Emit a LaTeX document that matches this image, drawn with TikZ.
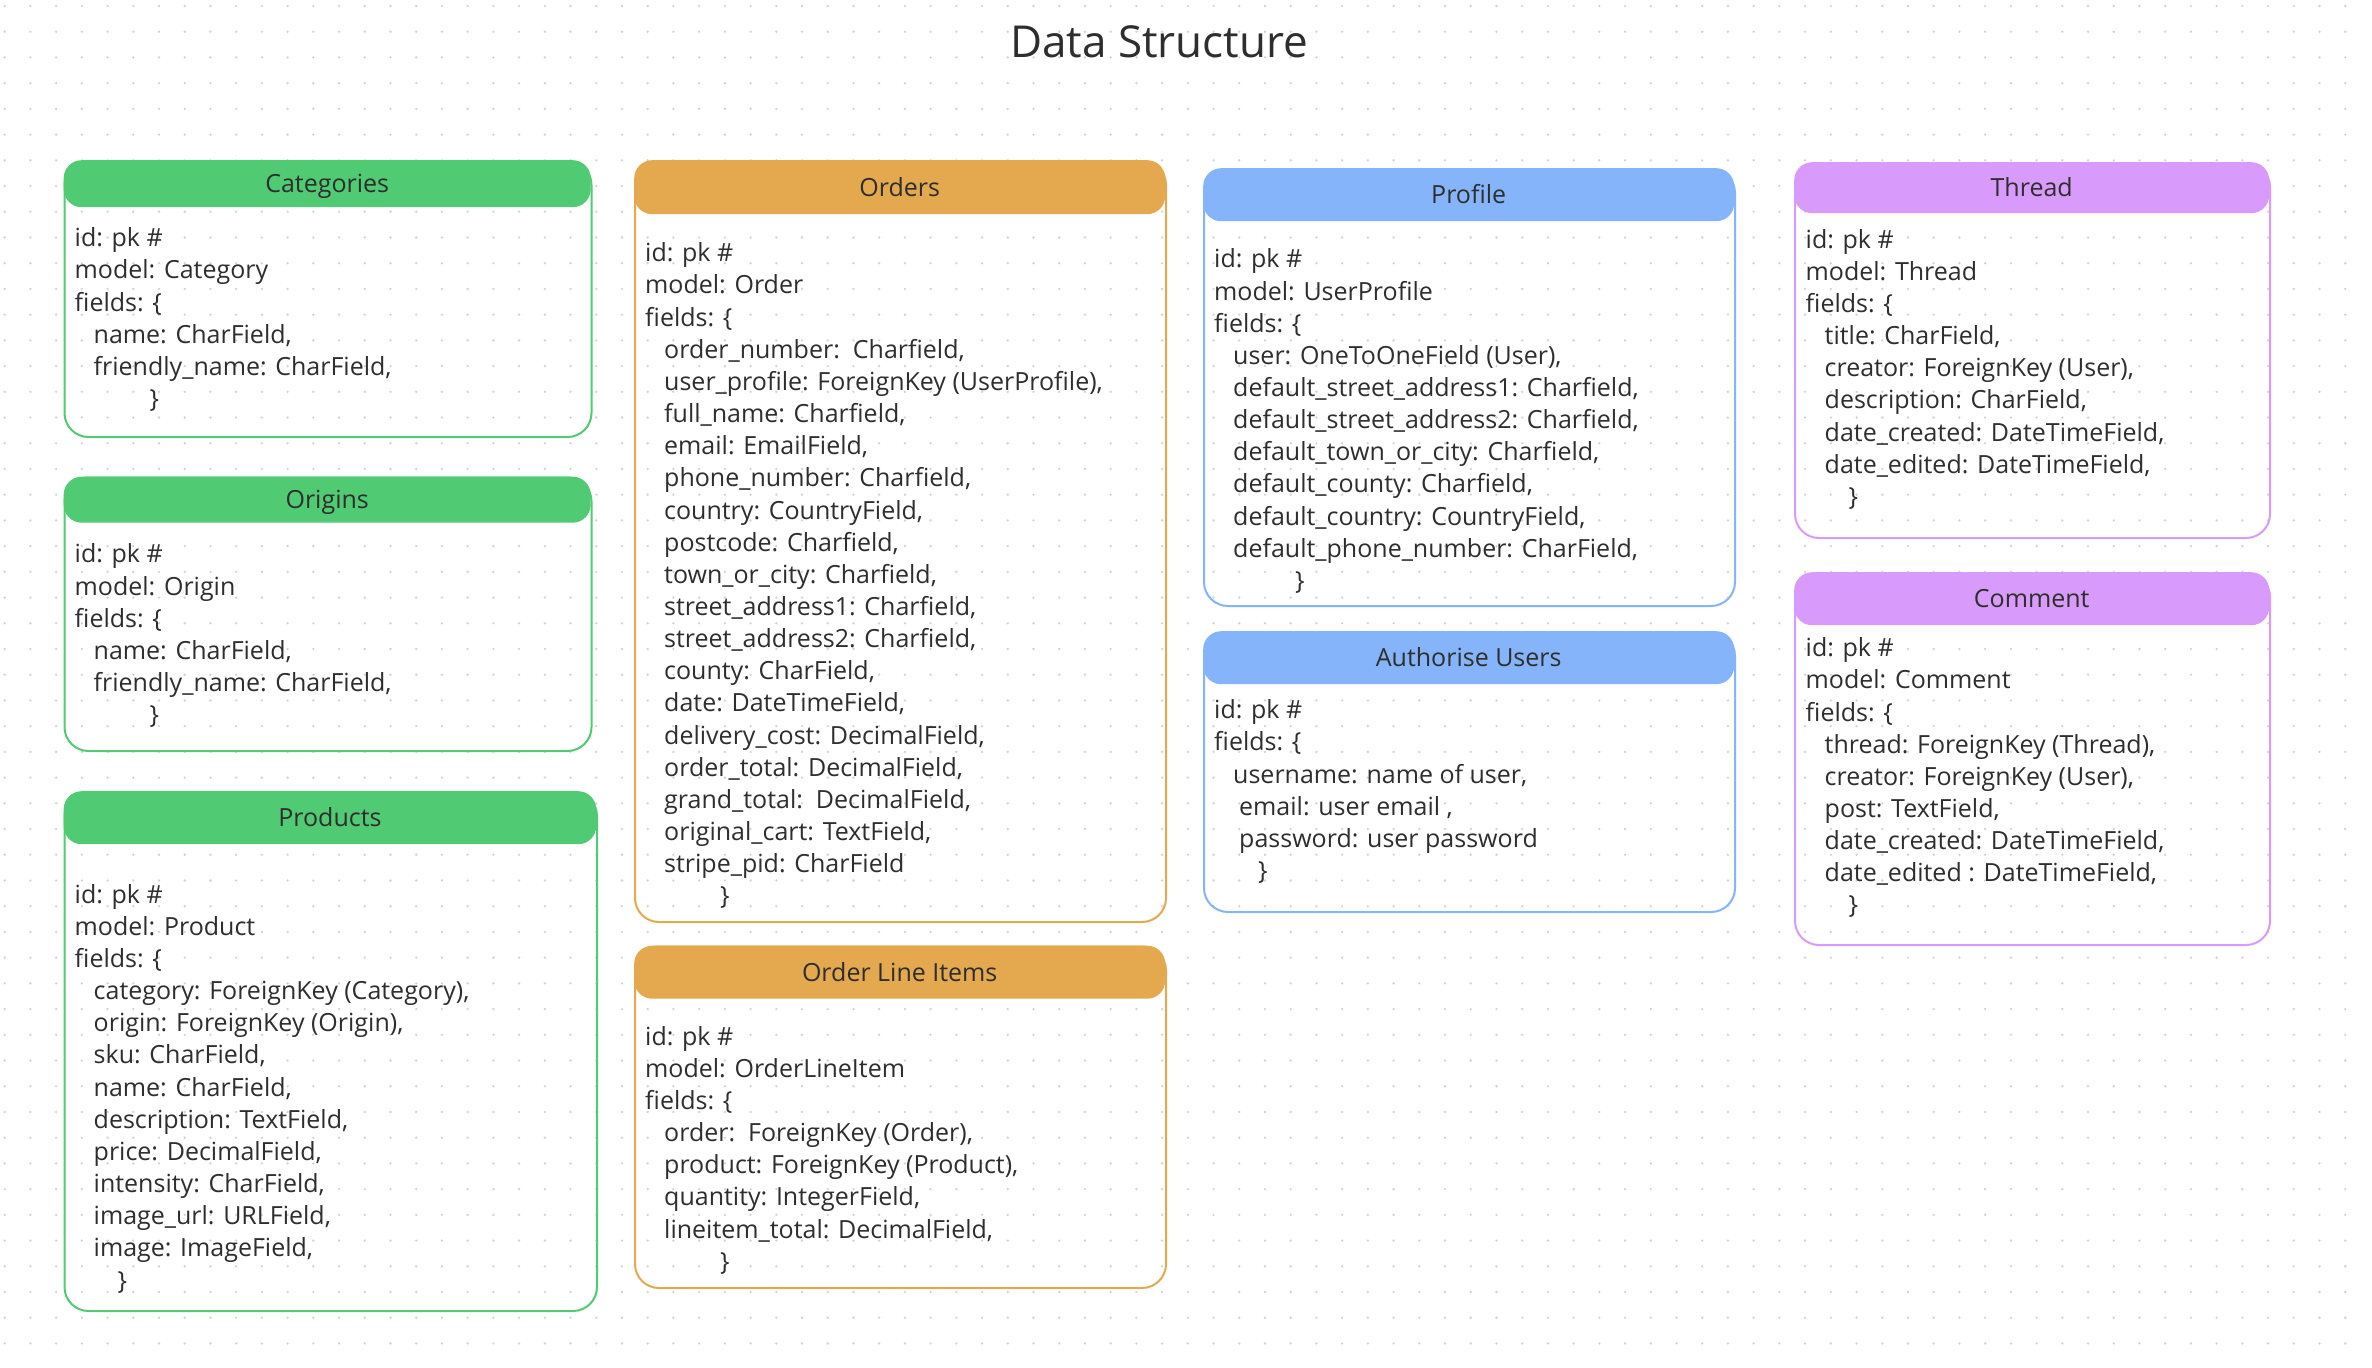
\documentclass[tikz,border=0pt]{standalone}
\usepackage{fontspec}
\setmainfont{Open Sans}
\usetikzlibrary{positioning}
\definecolor{dsgreen}{HTML}{50CB73}
\definecolor{dsorange}{HTML}{E4A84F}
\definecolor{dsblue}{HTML}{85B4FB}
\definecolor{dspurple}{HTML}{D89BFB}
\definecolor{dsink}{HTML}{2E2E2E}
\definecolor{dsdot}{HTML}{D2D2D2}
\newcommand{\fld}{\hspace*{19pt}}
\newcommand{\cls}[1]{\hspace*{#1pt}\}}

\begin{document}
\begin{tikzpicture}[x=1pt, y=-1pt, font=\fontsize{25}{32.15}\selectfont, text=dsink,
          card/.style={draw=#1, line width=2pt, rounded corners=24pt, anchor=north west, inner sep=0pt},
          head/.style={fill=#1, rounded corners=18pt, anchor=north west, inner sep=0pt, text height=18pt, text depth=0pt},
          body/.style={anchor=north west, inner sep=0pt, align=left}]
          \useasboundingbox (0,0) rectangle (2372,1368);
          \fill[white] (0,0) rectangle (2372,1368);
          % dotted canvas
          \foreach \j in {0,...,52} {\fill[dsdot] \foreach \i in {0,...,91} {(4.7+25.72*\i, 6+25.72*\j) circle (1.3)};}
          \node[font=\fontsize{44}{50}\selectfont] (title) at (1159,42) {Data Structure};
          % first column
          \node[card=dsgreen, minimum width=527, minimum height=276] (cat) at (63.5,160) {};
          \node[head=dsgreen, minimum width=527, minimum height=47] (cat-h) at (cat.north west) {Categories};
          \node[body] (cat-b) at (74.5,224) {\strut id: pk \#\\ model: Category\\ fields: \{\\
            \fld name: CharField,\\ \fld friendly\_name: CharField,\\ \cls{75}};
          \node[card=dsgreen, minimum width=527, minimum height=273.5] (ori) at (63.5,476.5) {};
          \node[head=dsgreen, minimum width=527, minimum height=46] (ori-h) at (ori.north west) {Origins};
          \node[body] (ori-b) at (74.5,540.2) {\strut id: pk \#\\ model: Origin\\ fields: \{\\
            \fld name: CharField,\\ \fld friendly\_name: CharField,\\ \cls{75}};
          \node[card=dsgreen, minimum width=532.5, minimum height=519] (prd) at (63.5,791) {};
          \node[head=dsgreen, minimum width=532.5, minimum height=53] (prd-h) at (prd.north west) {Products};
          \node[body] (prd-b) at (74.5,880.5) {\strut id: pk \#\\ model: Product\\ fields: \{\\
            \fld category: ForeignKey (Category),\\ \fld origin: ForeignKey (Origin),\\ \fld sku: CharField,\\
            \fld name: CharField,\\ \fld description: TextField,\\ \fld price: DecimalField,\\
            \fld intensity: CharField,\\ \fld image\_url: URLField,\\ \fld image: ImageField,\\ \cls{43}};
          % second column
          \node[card=dsorange, minimum width=531, minimum height=761] (ord) at (634,160) {};
          \node[head=dsorange, minimum width=531, minimum height=54] (ord-h) at (ord.north west) {Orders};
          \node[body] (ord-b) at (645,239.1) {\strut id: pk \#\\ model: Order\\ fields: \{\\
            \fld order\_number:~~Charfield,\\ \fld user\_profile: ForeignKey (UserProfile),\\
            \fld full\_name: Charfield,\\ \fld email: EmailField,\\ \fld phone\_number: Charfield,\\
            \fld country: CountryField,\\ \fld postcode: Charfield,\\ \fld town\_or\_city: Charfield,\\
            \fld street\_address1: Charfield,\\ \fld street\_address2: Charfield,\\ \fld county: CharField,\\
            \fld date: DateTimeField,\\ \fld delivery\_cost: DecimalField,\\ \fld order\_total: DecimalField,\\
            \fld grand\_total:~~DecimalField,\\ \fld original\_cart: TextField,\\ \fld stripe\_pid: CharField\\ \cls{75}};
          \node[card=dsorange, minimum width=531, minimum height=341.5] (oli) at (634,945.5) {};
          \node[head=dsorange, minimum width=531, minimum height=53] (oli-h) at (oli.north west) {Order Line Items};
          \node[body] (oli-b) at (645,1022.5) {\strut id: pk \#\\ model: OrderLineItem\\ fields: \{\\
            \fld order:~~ForeignKey (Order),\\ \fld product: ForeignKey (Product),\\
            \fld quantity: IntegerField,\\ \fld lineitem\_total: DecimalField,\\ \cls{75}};
          % third column
          \node[card=dsblue, minimum width=531, minimum height=437] (pro) at (1203,168) {};
          \node[head=dsblue, minimum width=531, minimum height=53] (pro-h) at (pro.north west) {Profile};
          \node[body] (pro-b) at (1214,245.2) {\strut id: pk \#\\ model: UserProfile\\ fields: \{\\
            \fld user: OneToOneField (User),\\ \fld default\_street\_address1: Charfield,\\
            \fld default\_street\_address2: Charfield,\\ \fld default\_town\_or\_city: Charfield,\\
            \fld default\_county: Charfield,\\ \fld default\_country: CountryField,\\
            \fld default\_phone\_number: CharField,\\ \cls{81}};
          \node[card=dsblue, minimum width=531, minimum height=280] (aut) at (1203,631) {};
          \node[head=dsblue, minimum width=531, minimum height=53] (aut-h) at (aut.north west) {Authorise Users};
          \node[body] (aut-b) at (1214,696) {\strut id: pk \#\\ fields: \{\\
            \fld username: name of user,\\ \hspace*{25pt}email: user email ,\\
            \hspace*{25pt}password: user password\\ \cls{44}};
          % fourth column
          \node[card=dspurple, minimum width=475, minimum height=375] (thr) at (1794,162) {};
          \node[head=dspurple, minimum width=475, minimum height=51] (thr-h) at (thr.north west) {Thread};
          \node[body] (thr-b) at (1805.5,225.5) {\strut id: pk \#\\ model: Thread\\ fields: \{\\
            \fld title: CharField,\\ \fld creator: ForeignKey (User),\\ \fld description: CharField,\\
            \fld date\_created: DateTimeField,\\ \fld date\_edited: DateTimeField,\\ \cls{43}};
          \node[card=dspurple, minimum width=475, minimum height=372] (com) at (1794,572) {};
          \node[head=dspurple, minimum width=475, minimum height=53] (com-h) at (com.north west) {Comment};
          \node[body] (com-b) at (1805.5,634) {\strut id: pk \#\\ model: Comment\\ fields: \{\\
            \fld thread: ForeignKey (Thread),\\ \fld creator: ForeignKey (User),\\ \fld post: TextField,\\
            \fld date\_created: DateTimeField,\\ \fld date\_edited : DateTimeField,\\ \cls{43}};
\end{tikzpicture}
\end{document}
